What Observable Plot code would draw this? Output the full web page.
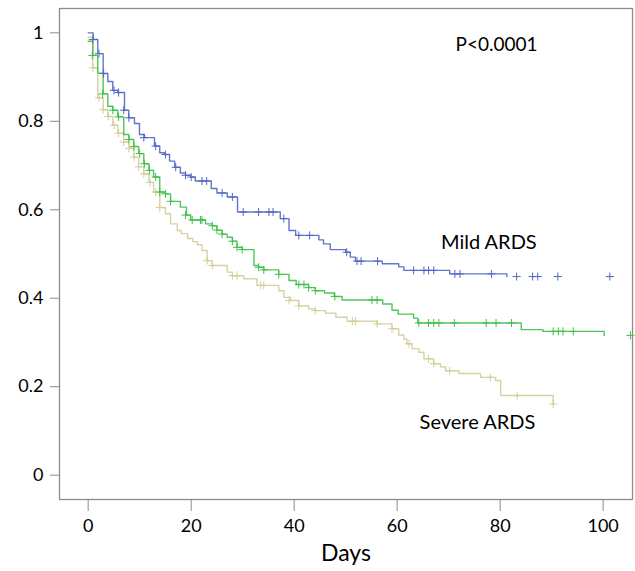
<!DOCTYPE html>
<html><head><meta charset="utf-8">
<script src="https://cdn.jsdelivr.net/npm/d3@7"></script>
<script src="https://cdn.jsdelivr.net/npm/@observablehq/plot@0.6"></script>
<style>body{margin:0;background:#fff}</style>
</head><body><div id="chart"></div>
<script>
// Groups
const groups = ["Severe ARDS", "Moderate ARDS", "Mild ARDS"];
const groupColors = ["#d3cd98", "#3fbf48", "#5067c4"];

// Mild ARDS (blue) step times (days) and survival after each step
const mildTime = [0, 0.97, 1.86, 2.91, 3.81, 4.78, 5.75, 7.05, 7.88, 8.99, 9.96, 10.93, 12.87, 13.9, 14.8, 15.8, 16.8, 17.9, 18.9, 19.9, 20.8, 23.9, 25.0, 27.0, 29.0, 37.3, 39.0, 40.3, 44.8, 45.7, 47.0, 50.0, 50.9, 51.9, 57.1, 60.3, 61.3, 70.2, 81.3];
const mildSurv = [1.0, 0.985, 0.953, 0.908, 0.890, 0.870, 0.865, 0.825, 0.808, 0.795, 0.770, 0.763, 0.744, 0.729, 0.725, 0.710, 0.696, 0.683, 0.678, 0.674, 0.665, 0.648, 0.638, 0.629, 0.595, 0.580, 0.553, 0.542, 0.532, 0.523, 0.510, 0.504, 0.493, 0.484, 0.478, 0.471, 0.463, 0.455, 0.449];
const mildCensor = [0.9, 2.1, 3.0, 5.0, 5.9, 6.9, 7.9, 10.8, 13.1, 15.0, 17.0, 18.9, 20.0, 22.1, 23.0, 26.0, 28.0, 30.1, 33.1, 35.1, 35.9, 38.0, 40.9, 43.0, 50.2, 52.2, 53.0, 56.2, 63.2, 65.2, 66.1, 67.1, 71.2, 72.2, 78.3, 83.2, 86.3, 87.3, 91.2, 101.3];

// Moderate ARDS (green)
const modTime = [0, 0.9, 1.86, 2.91, 3.81, 4.78, 5.75, 6.9, 7.9, 8.85, 9.8, 10.8, 11.8, 12.7, 13.9, 15.0, 16.0, 17.9, 19.1, 19.9, 22.8, 24.1, 25.0, 26.0, 27.0, 28.0, 28.9, 29.9, 32.2, 33.1, 34.1, 37.0, 39.0, 40.4, 42.8, 44.1, 45.9, 47.8, 49.3, 57.2, 59.0, 60.2, 63.2, 64.0, 84.1, 88.3, 100.2];
const modSurv = [0.981, 0.949, 0.909, 0.862, 0.834, 0.825, 0.810, 0.770, 0.759, 0.743, 0.727, 0.704, 0.689, 0.674, 0.640, 0.636, 0.619, 0.606, 0.588, 0.577, 0.568, 0.564, 0.554, 0.545, 0.538, 0.529, 0.515, 0.510, 0.474, 0.470, 0.464, 0.454, 0.440, 0.431, 0.424, 0.417, 0.412, 0.404, 0.396, 0.387, 0.373, 0.364, 0.355, 0.344, 0.329, 0.325, 0.316];
const modCensor = [0.8, 2.8, 4.8, 5.9, 7.9, 8.9, 10.0, 10.9, 11.9, 13.1, 13.9, 15.0, 16.0, 18.9, 20.2, 21.8, 22.1, 24.1, 25.0, 26.0, 28.0, 28.9, 29.9, 33.1, 34.1, 37.0, 40.9, 41.9, 42.8, 44.1, 47.9, 55.1, 56.1, 64.2, 66.1, 67.1, 68.1, 71.1, 77.3, 79.2, 82.2, 90.3, 91.3, 92.2, 94.2, 105.3];

// Severe ARDS (tan)
const sevTime = [0, 0.9, 1.86, 2.91, 3.81, 4.78, 5.75, 6.9, 7.9, 8.85, 9.8, 10.8, 11.8, 12.7, 13.9, 15.0, 16.0, 17.3, 18.1, 19.3, 20.3, 21.2, 22.1, 23.1, 24.1, 27.0, 28.0, 30.2, 32.8, 37.0, 38.0, 39.3, 40.9, 42.8, 44.1, 46.1, 48.1, 50.3, 56.1, 59.0, 60.3, 61.3, 61.9, 62.9, 64.2, 65.2, 67.1, 68.4, 69.4, 72.0, 76.2, 79.1, 80.1, 90.3];
const sevSurv = [0.990, 0.921, 0.853, 0.826, 0.811, 0.791, 0.773, 0.753, 0.739, 0.719, 0.697, 0.681, 0.662, 0.640, 0.605, 0.591, 0.568, 0.553, 0.546, 0.535, 0.528, 0.521, 0.508, 0.485, 0.474, 0.459, 0.451, 0.444, 0.429, 0.417, 0.402, 0.395, 0.383, 0.376, 0.372, 0.366, 0.357, 0.348, 0.342, 0.331, 0.317, 0.308, 0.297, 0.286, 0.278, 0.263, 0.252, 0.245, 0.236, 0.230, 0.221, 0.214, 0.180, 0.161];
const sevCensor = [0.9, 2.1, 2.9, 3.9, 5.0, 5.9, 6.9, 7.9, 8.9, 9.8, 10.8, 12.0, 13.1, 13.9, 23.1, 24.1, 28.0, 28.9, 33.5, 34.1, 39.0, 40.9, 44.1, 51.3, 51.9, 56.1, 59.0, 62.3, 66.1, 67.1, 70.2, 78.1, 83.3, 90.3];

// Axis ticks
const xTicks = [0, 20, 40, 60, 80, 100];
const yTicks = [0, 0.2, 0.4, 0.6, 0.8, 1];

// Annotations
const noteTexts = ["P<0.0001", "Mild ARDS", "Severe ARDS"];
const noteX = [79.3, 77.8, 75.6];
const noteY = [0.972, 0.526, 0.119];
const noteSize = [19, 20, 20];

function stepRows(group, times, surv) {
  return times.map((t, i) => ({group, t, s: surv[i]}));
}
function censorRows(group, ctimes, times, surv) {
  return ctimes.map(c => {
    const i = Math.max(0, d3.bisectRight(times, c + 0.3) - 1);
    return {group, t: c, s: surv[i]};
  });
}

const stepData = [
  ...stepRows("Severe ARDS", sevTime, sevSurv),
  ...stepRows("Moderate ARDS", modTime, modSurv),
  ...stepRows("Mild ARDS", mildTime, mildSurv)
];
const censorData = [
  ...censorRows("Severe ARDS", sevCensor, sevTime, sevSurv),
  ...censorRows("Moderate ARDS", modCensor, modTime, modSurv),
  ...censorRows("Mild ARDS", mildCensor, mildTime, mildSurv)
];
const notes = noteTexts.map((text, i) => ({text, x: noteX[i], y: noteY[i], size: noteSize[i]}));

const chart = Plot.plot({
  width: 635,
  height: 571,
  marginLeft: 59,
  marginRight: 3,
  marginTop: 8,
  marginBottom: 72,
  style: {fontFamily: "Lato, 'Open Sans', sans-serif", color: "#000", background: "#fff", overflow: "visible"},
  x: {domain: [-5.57, 105.7]},
  y: {domain: [-0.055, 1.055]},
  color: {domain: groups, range: groupColors},
  marks: [
    Plot.frame({stroke: "#8c8c8c", strokeWidth: 1.3}),
    Plot.axisX(xTicks, {tickSize: 12, tickPadding: 8, stroke: "#8c8c8c", fill: "#000", fontSize: 18, label: null}),
    Plot.axisY(yTicks, {tickSize: 9, tickPadding: 7, stroke: "#8c8c8c", fill: "#000", fontSize: 18, label: null, tickFormat: d => String(d)}),
    Plot.text(["Days"], {frameAnchor: "bottom", dy: 61, fontSize: 23, fill: "#000"}),
    Plot.line(stepData, {x: "t", y: "s", z: "group", stroke: "group", curve: "step-after", strokeWidth: 1.4, strokeOpacity: 0.9}),
    Plot.dot(censorData, {x: "t", y: "s", symbol: "plus", r: 2.7, stroke: "group", strokeWidth: 1}),
    Plot.text(notes, {x: "x", y: "y", text: "text", fontSize: d => d.size, fill: "#000"})
  ]
});
document.getElementById("chart").appendChild(chart);
</script>
</body></html>
